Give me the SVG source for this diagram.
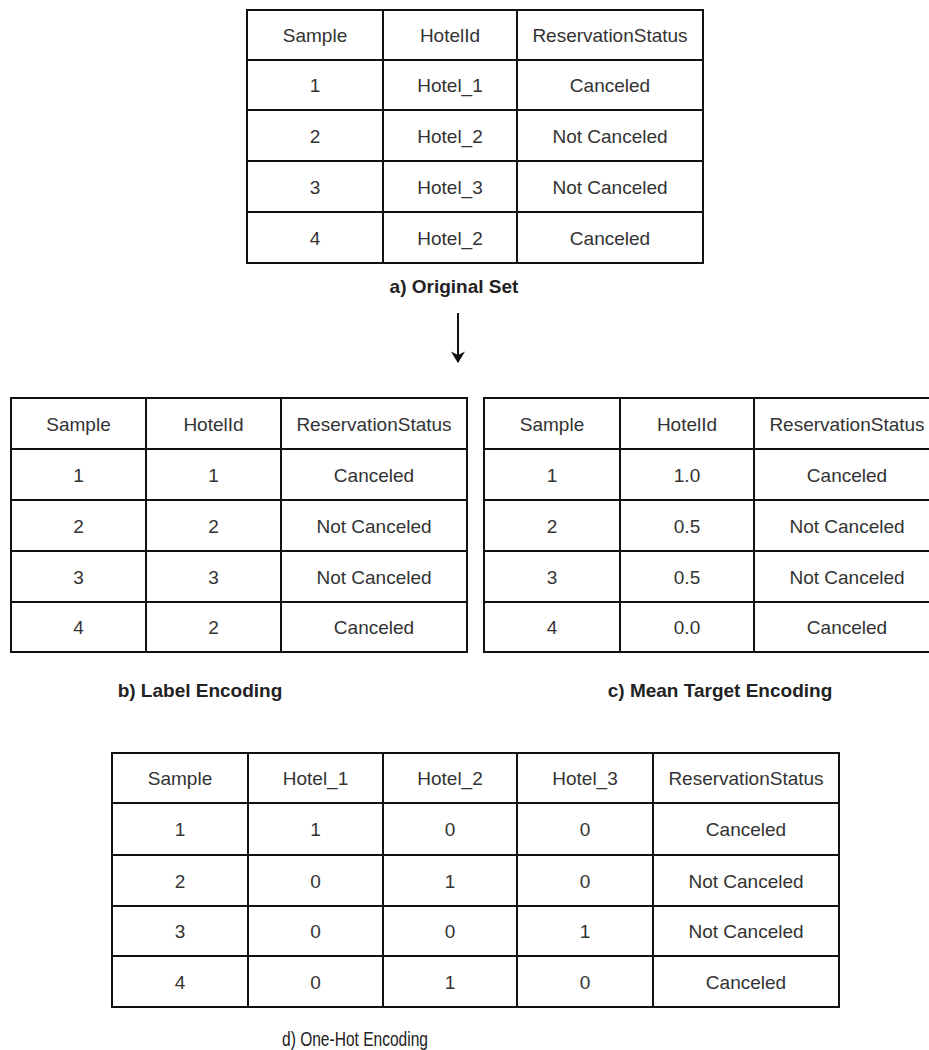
<svg xmlns="http://www.w3.org/2000/svg" width="929" height="1050" viewBox="0 0 929 1050">
  <style>
    .grid { fill: #ffffff; stroke: #111111; stroke-width: 2; }
    .ln { stroke: #111111; stroke-width: 2; }
    .t { font-family: "Liberation Sans", Arial, sans-serif; font-size: 19px; fill: #333333; text-anchor: middle; }
    .cap { font-family: "Liberation Sans", Arial, sans-serif; font-size: 19px; font-weight: bold; fill: #222222; text-anchor: middle; }
    .capn { font-family: "Liberation Sans", Arial, sans-serif; font-size: 20px; fill: #222222; text-anchor: middle; }
  </style>
  <defs>
    <marker id="arrowhead" viewBox="0 0 10 12" refX="9" refY="6" markerWidth="6" markerHeight="7" orient="auto" markerUnits="strokeWidth">
      <path d="M0,0 L10,6 L0,12 L3,6 Z" fill="#111111"/>
    </marker>
  </defs>
  <rect width="929" height="1050" fill="#ffffff"/>

  <!-- a) original set -->
  <g id="table-original">
    <rect class="grid" x="247" y="10" width="456" height="253"/>
    <line class="ln" x1="383" y1="10" x2="383" y2="263"/>
    <line class="ln" x1="517" y1="10" x2="517" y2="263"/>
    <line class="ln" x1="247" y1="60" x2="703" y2="60"/>
    <line class="ln" x1="247" y1="110" x2="703" y2="110"/>
    <line class="ln" x1="247" y1="161" x2="703" y2="161"/>
    <line class="ln" x1="247" y1="212" x2="703" y2="212"/>
    <text class="t" x="315" y="42">Sample</text>
    <text class="t" x="450" y="42">HotelId</text>
    <text class="t" x="610" y="42">ReservationStatus</text>
    <text class="t" x="315" y="92">1</text>
    <text class="t" x="450" y="92">Hotel_1</text>
    <text class="t" x="610" y="92">Canceled</text>
    <text class="t" x="315" y="143">2</text>
    <text class="t" x="450" y="143">Hotel_2</text>
    <text class="t" x="610" y="143">Not Canceled</text>
    <text class="t" x="315" y="194">3</text>
    <text class="t" x="450" y="194">Hotel_3</text>
    <text class="t" x="610" y="194">Not Canceled</text>
    <text class="t" x="315" y="245">4</text>
    <text class="t" x="450" y="245">Hotel_2</text>
    <text class="t" x="610" y="245">Canceled</text>
    <text class="cap" x="454" y="293">a) Original Set</text>
  </g>

  <!-- b) label encoding -->
  <g id="table-label">
    <rect class="grid" x="11" y="398" width="456" height="254"/>
    <line class="ln" x1="146" y1="398" x2="146" y2="652"/>
    <line class="ln" x1="281" y1="398" x2="281" y2="652"/>
    <line class="ln" x1="11" y1="449" x2="467" y2="449"/>
    <line class="ln" x1="11" y1="500" x2="467" y2="500"/>
    <line class="ln" x1="11" y1="551" x2="467" y2="551"/>
    <line class="ln" x1="11" y1="602" x2="467" y2="602"/>
    <text class="t" x="78.5" y="430.5">Sample</text>
    <text class="t" x="213.5" y="430.5">HotelId</text>
    <text class="t" x="374" y="430.5">ReservationStatus</text>
    <text class="t" x="78.5" y="481.5">1</text>
    <text class="t" x="213.5" y="481.5">1</text>
    <text class="t" x="374" y="481.5">Canceled</text>
    <text class="t" x="78.5" y="532.5">2</text>
    <text class="t" x="213.5" y="532.5">2</text>
    <text class="t" x="374" y="532.5">Not Canceled</text>
    <text class="t" x="78.5" y="583.5">3</text>
    <text class="t" x="213.5" y="583.5">3</text>
    <text class="t" x="374" y="583.5">Not Canceled</text>
    <text class="t" x="78.5" y="634">4</text>
    <text class="t" x="213.5" y="634">2</text>
    <text class="t" x="374" y="634">Canceled</text>
    <text class="cap" x="200" y="697">b) Label Encoding</text>
  </g>

  <!-- c) mean target encoding (runs off the right edge) -->
  <g id="table-mean-target">
    <rect class="grid" x="484" y="398" width="456" height="254"/>
    <line class="ln" x1="620" y1="398" x2="620" y2="652"/>
    <line class="ln" x1="754" y1="398" x2="754" y2="652"/>
    <line class="ln" x1="484" y1="449" x2="940" y2="449"/>
    <line class="ln" x1="484" y1="500" x2="940" y2="500"/>
    <line class="ln" x1="484" y1="551" x2="940" y2="551"/>
    <line class="ln" x1="484" y1="602" x2="940" y2="602"/>
    <text class="t" x="552" y="430.5">Sample</text>
    <text class="t" x="687" y="430.5">HotelId</text>
    <text class="t" x="847" y="430.5">ReservationStatus</text>
    <text class="t" x="552" y="481.5">1</text>
    <text class="t" x="687" y="481.5">1.0</text>
    <text class="t" x="847" y="481.5">Canceled</text>
    <text class="t" x="552" y="532.5">2</text>
    <text class="t" x="687" y="532.5">0.5</text>
    <text class="t" x="847" y="532.5">Not Canceled</text>
    <text class="t" x="552" y="583.5">3</text>
    <text class="t" x="687" y="583.5">0.5</text>
    <text class="t" x="847" y="583.5">Not Canceled</text>
    <text class="t" x="552" y="634">4</text>
    <text class="t" x="687" y="634">0.0</text>
    <text class="t" x="847" y="634">Canceled</text>
    <text class="cap" x="720" y="697">c) Mean Target Encoding</text>
  </g>

  <!-- d) one-hot encoding -->
  <g id="table-one-hot">
    <rect class="grid" x="112" y="753" width="727" height="254"/>
    <line class="ln" x1="248" y1="753" x2="248" y2="1007"/>
    <line class="ln" x1="383" y1="753" x2="383" y2="1007"/>
    <line class="ln" x1="517" y1="753" x2="517" y2="1007"/>
    <line class="ln" x1="653" y1="753" x2="653" y2="1007"/>
    <line class="ln" x1="112" y1="803" x2="839" y2="803"/>
    <line class="ln" x1="112" y1="855" x2="839" y2="855"/>
    <line class="ln" x1="112" y1="906" x2="839" y2="906"/>
    <line class="ln" x1="112" y1="956" x2="839" y2="956"/>
    <text class="t" x="180" y="785">Sample</text>
    <text class="t" x="315.5" y="785">Hotel_1</text>
    <text class="t" x="450" y="785">Hotel_2</text>
    <text class="t" x="585" y="785">Hotel_3</text>
    <text class="t" x="746" y="785">ReservationStatus</text>
    <text class="t" x="180" y="836">1</text>
    <text class="t" x="315.5" y="836">1</text>
    <text class="t" x="450" y="836">0</text>
    <text class="t" x="585" y="836">0</text>
    <text class="t" x="746" y="836">Canceled</text>
    <text class="t" x="180" y="887.5">2</text>
    <text class="t" x="315.5" y="887.5">0</text>
    <text class="t" x="450" y="887.5">1</text>
    <text class="t" x="585" y="887.5">0</text>
    <text class="t" x="746" y="887.5">Not Canceled</text>
    <text class="t" x="180" y="938">3</text>
    <text class="t" x="315.5" y="938">0</text>
    <text class="t" x="450" y="938">0</text>
    <text class="t" x="585" y="938">1</text>
    <text class="t" x="746" y="938">Not Canceled</text>
    <text class="t" x="180" y="988.5">4</text>
    <text class="t" x="315.5" y="988.5">0</text>
    <text class="t" x="450" y="988.5">1</text>
    <text class="t" x="585" y="988.5">0</text>
    <text class="t" x="746" y="988.5">Canceled</text>
    <text class="capn" x="355" y="1046" textLength="146" lengthAdjust="spacingAndGlyphs">d) One-Hot Encoding</text>
  </g>

  <!-- connectors -->
  <g id="connectors">
    <line x1="458" y1="313" x2="458" y2="362" stroke="#111111" stroke-width="2" marker-end="url(#arrowhead)"/>
  </g>
</svg>
